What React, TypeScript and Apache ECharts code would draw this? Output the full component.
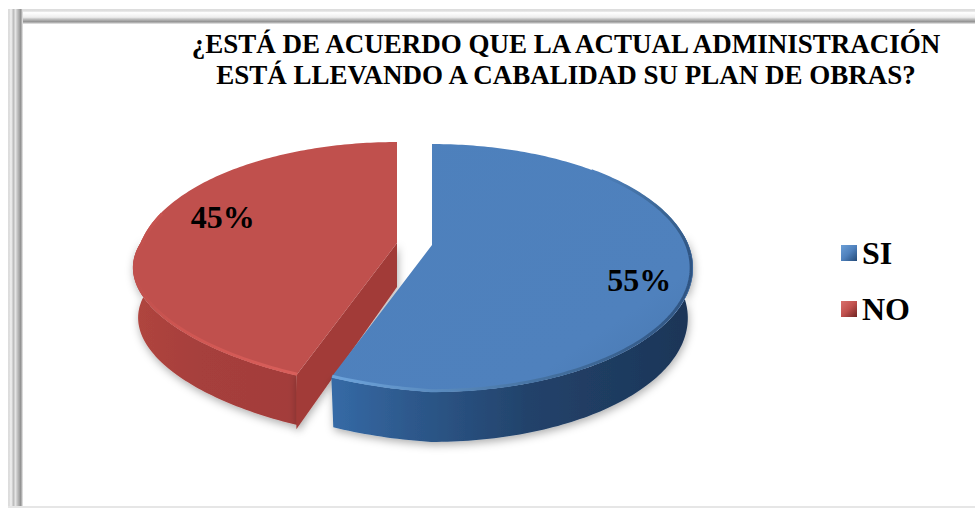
import React, { useEffect, useRef } from "react";
import * as echarts from "echarts";

const categories = ["SI", "NO"];
const siValues = [55];
const noValues = [45];
const titleLines = [
  "¿ESTÁ DE ACUERDO QUE LA ACTUAL ADMINISTRACIÓN",
  "ESTÁ LLEVANDO A CABALIDAD SU PLAN DE OBRAS?",
];

const TOTAL = siValues[0] + noValues[0];
const SERIF = '"Liberation Serif", "Times New Roman", serif';

// perspective model of the pie's top disc
const APEX_X = 432;
const APEX_Y = 245;
const A = 256.5;
const B = 119.7;
const K = 0.1855;
const DEPTH = 50;
const FLATTEN_Y = 20;
const FLATTEN_X = 15;
const RIM_INSET = 0.993;

type Pt = [number, number];

function project(deg: number, dx: number, dy: number, r = 1, drop = 0): Pt {
  const t = (deg * Math.PI) / 180;
  const u = r * Math.sin(t);
  const v = -r * Math.cos(t);
  const w = 1 - K * v;
  const leftFront = Math.max(0, -u) * Math.max(0, v);
  const shrink = drop > 0 ? 0.98 : 1;
  return [
    APEX_X + dx + ((A * u) / w) * shrink - FLATTEN_X * leftFront,
    APEX_Y + dy + (B * v) / w + drop - FLATTEN_Y * leftFront,
  ];
}

function arc(from: number, to: number, dx: number, dy: number, drop = 0, r = 1): Pt[] {
  const pts: Pt[] = [];
  const n = Math.max(2, Math.ceil(Math.abs(to - from)));
  for (let i = 0; i <= n; i++) pts.push(project(from + ((to - from) * i) / n, dx, dy, r, drop));
  return pts;
}

const lin = (x0: number, y0: number, x1: number, y1: number, stops: [number, string][]) =>
  new echarts.graphic.LinearGradient(x0, y0, x1, y1, stops.map(([offset, color]) => ({ offset, color })));

type Rim = { from: number; to: number; stroke: any };

type SliceStyle = {
  dx: number;
  dy: number;
  from: number;
  to: number;
  wallFrom: number;
  wallTo: number;
  top: any;
  wall: any;
  rims: Rim[];
  face?: string;
  labelDeg: number;
  labelR: number;
  labelOffset: Pt;
};

function sliceItem(value: number, s: SliceStyle) {
  const children: any[] = [];
  const apex = project(0, s.dx, s.dy, 0);
  const shadow = { shadowBlur: 9, shadowColor: "rgba(0,0,0,0.32)", shadowOffsetY: 3, shadowOffsetX: 1 };

  const topArc = arc(s.wallFrom, s.wallTo, s.dx, s.dy);
  const lowArc = arc(s.wallTo, s.wallFrom, s.dx, s.dy, DEPTH);
  children.push({
    type: "polygon",
    shape: { points: [...topArc, ...lowArc] },
    style: { fill: s.wall, ...shadow },
  });
  if (s.face) {
    const corner = project(s.from, s.dx, s.dy);
    children.push({
      type: "polygon",
      shape: {
        points: [
          apex,
          corner,
          [corner[0], corner[1] + DEPTH + 4],
          [apex[0], apex[1] + 44],
        ],
      },
      style: { fill: s.face, ...shadow },
    });
  }
  children.push({
    type: "polygon",
    shape: { points: [apex, ...arc(s.from, s.to, s.dx, s.dy)] },
    style: { fill: s.top },
  });
  s.rims.forEach((rim) => {
    children.push({
      type: "polyline",
      shape: { points: arc(rim.from, rim.to, s.dx, s.dy, 0, RIM_INSET) },
      style: { fill: "none", stroke: rim.stroke, lineWidth: 3, lineCap: "butt" },
    });
  });
  const lp = project(s.labelDeg, s.dx, s.dy, s.labelR);
  children.push({
    type: "text",
    x: lp[0] + s.labelOffset[0],
    y: lp[1] + s.labelOffset[1],
    style: {
      text: `${value}%`,
      fill: "#000",
      font: `bold 32px ${SERIF}`,
      align: "center",
      verticalAlign: "middle",
    },
  });
  return { type: "group", children };
}

const siStartDeg = 0;
const siEndDeg = (siValues[0] / TOTAL) * 360;

const siStyle: SliceStyle = {
  dx: 0,
  dy: 0,
  from: siStartDeg,
  to: siEndDeg,
  wallFrom: 85,
  wallTo: siEndDeg,
  top: lin(0, 0, 1, 1, [
    [0, "#4d80bc"],
    [0.75, "#4f81bd"],
    [1, "#4776ad"],
  ]),
  wall: lin(1, 0, 0, 0, [
    [0, "#1c3557"],
    [0.45, "#22426a"],
    [0.8, "#2e5a8e"],
    [1, "#356aa6"],
  ]),
  rims: [
    {
      from: 45,
      to: 95,
      stroke: lin(0, 0, 0, 1, [
        [0, "#4f81bd"],
        [0.45, "#3c6796"],
        [1, "#2f5482"],
      ]),
    },
    {
      from: 95,
      to: siEndDeg,
      stroke: lin(1, 0, 0, 0, [
        [0, "#2f5482"],
        [0.4, "#44709f"],
        [1, "#6ea4dc"],
      ]),
    },
  ],
  labelDeg: 96,
  labelR: 0.72,
  labelOffset: [21, 26],
};

const noStyle: SliceStyle = {
  dx: -35,
  dy: -2,
  from: siEndDeg,
  to: 360,
  wallFrom: siEndDeg,
  wallTo: 272,
  top: "#c0504d",
  wall: lin(1, 0, 0, 0, [
    [0, "#a33d3a"],
    [0.6, "#a63f3c"],
    [1, "#b0453f"],
  ]),
  rims: [
    {
      from: siEndDeg,
      to: 285,
      stroke: lin(1, 0, 0, 0, [
        [0, "#d95f5b"],
        [0.7, "#cf5652"],
        [1, "#c0504d"],
      ]),
    },
  ],
  face: "#a23b38",
  labelDeg: 305,
  labelR: 0.68,
  labelOffset: [-41, 18],
};

const frameBand = (shape: any, fill: any) => ({ type: "rect", shape, style: { fill }, silent: true });

export default function App() {
  const ref = useRef<HTMLDivElement>(null);

  useEffect(() => {
    const chart = echarts.init(ref.current!, undefined, { renderer: "svg" });
    const vBand = lin(0, 0, 1, 0, [
      [0, "#dcdcdc"],
      [0.12, "#dedede"],
      [0.2, "#f4f4f4"],
      [0.36, "#bcbcbc"],
      [0.5, "#e4e4e4"],
      [0.62, "#c4c4c4"],
      [0.85, "#909090"],
      [1, "#f0f0f0"],
    ]);
    const hBand = lin(0, 0, 0, 1, [
      [0, "#dcdcdc"],
      [0.14, "#e0e0e0"],
      [0.24, "#ffffff"],
      [0.55, "#eeeeee"],
      [0.68, "#bfbfbf"],
      [0.85, "#929292"],
      [1, "#eeeeee"],
    ]);
    chart.setOption({
      animation: false,
      backgroundColor: "#ffffff",
      title: {
        text: titleLines.join("\n"),
        left: 561,
        top: 23,
        textAlign: "center",
        textStyle: {
          fontFamily: SERIF,
          fontWeight: "bold",
          fontSize: 27,
          lineHeight: 31,
          color: "#000",
        },
      },
      legend: {
        left: 836,
        top: 232,
        orient: "vertical",
        itemWidth: 16,
        itemHeight: 16,
        itemGap: 24,
        icon: "rect",
        data: categories,
        textStyle: {
          fontFamily: SERIF,
          fontWeight: "bold",
          fontSize: 32,
          color: "#000",
          padding: [0, 0, 0, 0],
        },
      },
      graphic: [
        frameBand({ x: 8, y: 9, width: 967, height: 15 }, hBand),
        frameBand({ x: 8, y: 9, width: 15, height: 497 }, vBand),
        frameBand({ x: 8, y: 506, width: 967, height: 2 }, "#e6e6e6"),
      ],
      series: [
        {
          type: "custom",
          name: categories[1],
          coordinateSystem: "none",
          data: [noValues],
          itemStyle: { color: lin(0, 0, 1, 1, [[0, "#d9716d"], [0.5, "#c0504d"], [1, "#6f2422"]]) },
          renderItem: (_p: any, api: any) => sliceItem(api.value(0), noStyle),
        },
        {
          type: "custom",
          name: categories[0],
          coordinateSystem: "none",
          data: [siValues],
          itemStyle: { color: lin(0, 0, 1, 1, [[0, "#6c9fd6"], [0.5, "#4f81bd"], [1, "#234a78"]]) },
          renderItem: (_p: any, api: any) => sliceItem(api.value(0), siStyle),
        },
      ],
    });
    return () => chart.dispose();
  }, []);

  return <div ref={ref} style={{ position: "fixed", left: 0, top: 0, width: 975, height: 508 }} />;
}
